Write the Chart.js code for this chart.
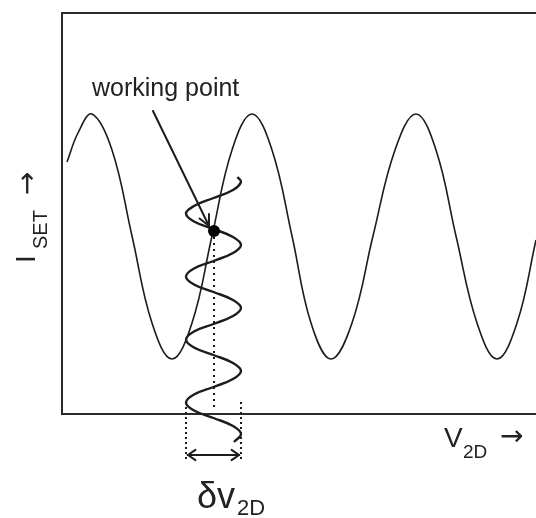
<!DOCTYPE html>
<html>
<head>
<meta charset="utf-8">
<script src="https://cdn.jsdelivr.net/npm/chart.js@4.4.1/dist/chart.umd.min.js"></script>
<style>
  html, body { margin: 0; padding: 0; background: #fff; }
  canvas { display: block; }
</style>
</head>
<body>
<canvas id="chart_iset" width="536" height="518"></canvas>
<script>
// SET current oscillation vs. V2D (arbitrary units, origin at lower left of the frame)
var curveV = [5, 16, 30, 50, 70, 90, 110, 130, 150, 170, 190, 210, 230, 249, 269, 290, 311, 333, 354, 374, 394, 415, 435, 455, 474];
var curveI = [252, 281, 300, 264, 178, 91, 55, 91, 178, 264, 300, 264, 178, 91, 55, 91, 178, 264, 300, 264, 178, 91, 55, 91, 174];

// small ac modulation on V2D, drawn running downwards through the working point
var modV = [175.5, 179, 171, 151.5, 132, 124, 132, 151.5, 171, 179, 171, 151.5, 132, 124, 132, 151.5, 171, 179, 171, 151.5, 132, 124, 132, 151.5, 171, 179, 171, 151.5, 132, 124, 132, 151.5, 171, 179, 172];
var modI = [237, 232, 224, 216, 208, 200.5, 192.5, 185, 177, 169, 161, 153, 145.5, 137.5, 129.5, 122, 114, 106, 98, 90, 82.5, 74.5, 66.5, 59, 51, 43, 35, 27, 19.5, 11.5, 3.5, -4, -12, -20, -28];

var workPoint = [152, 183];
var workDrop = [152, 5];          // dotted line from the working point down to the axis
var swingLeft = 124, swingRight = 179;
var swingTop = 12, swingBottom = -46, swingArrowI = -41;
var pointerFrom = [91, 303];
var pointerTo = [147, 188];

function pairs(xs, ys) {
    return xs.map(function (v, i) { return { x: v, y: ys[i] } })
}

var ink = '#1c1c1c';
var frame = '#2b2b2b';

function openHead(ctx, x0, y0, x1, y1, len, ang) {
    var a = Math.atan2(y1 - y0, x1 - x0);
    ctx.beginPath();
    ctx.moveTo(x1 - len * Math.cos(a - ang), y1 - len * Math.sin(a - ang));
    ctx.lineTo(x1, y1);
    ctx.lineTo(x1 - len * Math.cos(a + ang), y1 - len * Math.sin(a + ang));
    ctx.stroke();
}

var annotations = {
    id: 'annotations',
    afterDatasetsDraw: function (chart) {
        var ctx = chart.ctx;
        var sx = chart.scales.x, sy = chart.scales.y;
        ctx.save();
        ctx.strokeStyle = ink;
        ctx.lineCap = 'round';

        // pointer to the working point
        var ax = sx.getPixelForValue(pointerFrom[0]), ay = sy.getPixelForValue(pointerFrom[1]);
        var bx = sx.getPixelForValue(pointerTo[0]), by = sy.getPixelForValue(pointerTo[1]);
        ctx.lineWidth = 2;
        ctx.beginPath(); ctx.moveTo(ax, ay); ctx.lineTo(bx, by); ctx.stroke();
        openHead(ctx, ax, ay, bx, by, 12, 0.45);

        // swing width arrow
        var lx = sx.getPixelForValue(swingLeft) + 2, rx = sx.getPixelForValue(swingRight) - 2;
        var yy = sy.getPixelForValue(swingArrowI);
        ctx.lineWidth = 2;
        ctx.beginPath(); ctx.moveTo(lx, yy); ctx.lineTo(rx, yy); ctx.stroke();
        openHead(ctx, lx, yy, rx, yy, 9, 0.6);
        openHead(ctx, rx, yy, lx, yy, 9, 0.6);
        ctx.restore();
    },
    afterDraw: function (chart) {
        var ctx = chart.ctx;
        var sans = '"Liberation Sans", Arial, sans-serif';
        var arrowFont = '28px "DejaVu Sans", sans-serif';
        ctx.save();
        ctx.fillStyle = '#222';
        ctx.textBaseline = 'alphabetic';
        ctx.textAlign = 'left';

        ctx.font = '25px ' + sans;
        ctx.fillText('working point', 92, 96);

        // x label
        ctx.font = '28px ' + sans;
        ctx.fillText('V', 444, 447);
        ctx.font = '19px ' + sans;
        ctx.fillText('2D', 463, 458);
        ctx.font = arrowFont;
        ctx.fillText('\u2192', 500, 445);

        // y label, reading upwards
        ctx.save();
        ctx.translate(35, 263);
        ctx.rotate(-Math.PI / 2);
        ctx.font = '28px ' + sans;
        ctx.fillText('I', 0, 0);
        ctx.font = '20px ' + sans;
        ctx.fillText('SET', 14, 12);
        ctx.font = arrowFont;
        ctx.fillText('\u2192', 68, 1);
        ctx.restore();

        // modulation amplitude label
        ctx.font = '36px ' + sans;
        ctx.fillText('\u03b4v', 197, 508);
        ctx.font = '22px ' + sans;
        ctx.fillText('2D', 237, 515);
        ctx.restore();
    }
};

var ctx = document.getElementById('chart_iset');

var chart_iset = new Chart(ctx, {
    type: 'scatter',
    data: {
        datasets: [{
            data: [{ x: workPoint[0], y: workPoint[1] }],
            pointRadius: 6,
            pointBackgroundColor: '#000',
            pointBorderWidth: 0,
            clip: false
        }, {
            data: pairs(modV, modI),
            showLine: true,
            borderColor: ink,
            borderWidth: 2.4,
            tension: 0.4,
            pointRadius: 0,
            clip: false
        }, {
            data: pairs(curveV, curveI),
            showLine: true,
            borderColor: ink,
            borderWidth: 1.6,
            tension: 0.4,
            pointRadius: 0,
            clip: false
        }, {
            data: pairs([workPoint[0], workDrop[0]], [workPoint[1], workDrop[1]]),
            showLine: true,
            borderColor: ink,
            borderWidth: 2,
            borderDash: [2, 4],
            pointRadius: 0,
            clip: false
        }, {
            data: pairs([swingLeft, swingLeft], [swingTop, swingBottom]),
            showLine: true,
            borderColor: ink,
            borderWidth: 2,
            borderDash: [2, 3],
            pointRadius: 0,
            clip: false
        }, {
            data: pairs([swingRight, swingRight], [swingTop, swingBottom]),
            showLine: true,
            borderColor: ink,
            borderWidth: 2,
            borderDash: [2, 3],
            pointRadius: 0,
            clip: false
        }]
    },
    options: {
        responsive: false,
        animation: false,
        layout: { autoPadding: false, padding: { left: 62, top: 13, right: 0, bottom: 104 } },
        plugins: { legend: { display: false }, tooltip: { enabled: false } },
        scales: {
            x: {
                type: 'linear', min: 0, max: 474,
                ticks: { display: false },
                grid: { display: false, drawTicks: false },
                border: { display: true, color: frame, width: 2 }
            },
            x2: {
                axis: 'x', type: 'linear', position: 'top', min: 0, max: 474,
                ticks: { display: false },
                grid: { display: false, drawTicks: false },
                border: { display: true, color: frame, width: 2 }
            },
            y: {
                type: 'linear', min: 0, max: 401,
                ticks: { display: false },
                grid: { display: false, drawTicks: false },
                border: { display: true, color: frame, width: 2 }
            }
        }
    },
    plugins: [annotations]
})
</script>
</body>
</html>
